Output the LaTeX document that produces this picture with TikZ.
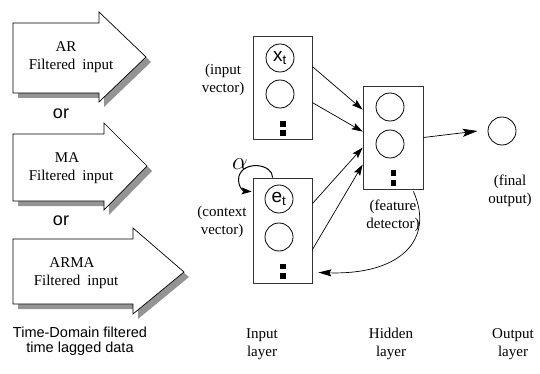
\documentclass[tikz,border=0pt]{standalone}
\usepackage{fontspec}
\setmainfont{Liberation Serif}
\setsansfont{Liberation Sans}
\usetikzlibrary{arrows.meta,calc}
\begin{document}
\begin{tikzpicture}[x=1pt,y=-1pt,
  bigarrow/.style={draw=black,line width=0.7pt,fill=white,line join=miter},
  shadow/.style={fill=black!42,draw=none},
  txt/.style={font=\fontsize{15}{18}\selectfont,inner sep=0pt,align=center},
  sans/.style={font=\sffamily\fontsize{16}{18}\selectfont,inner sep=0pt,align=center},
  layerbox/.style={draw=black!80,line width=0.8pt,minimum width=59pt,inner sep=0pt},
  neuron/.style={circle,draw=black,line width=0.8pt,minimum size=28pt,inner sep=0pt,font=\sffamily\fontsize{19}{19}\selectfont},
  dotsq/.style={fill=black,minimum width=5.5pt,minimum height=5.5pt,inner sep=0pt},
  conn/.style={line width=0.7pt,-{Stealth[length=11pt,width=7pt,inset=2pt]}}
]
\useasboundingbox (0,0) rectangle (540,374);
% ---- big input arrows ----
\fill[shadow,shift={(5,5)}] (13,23) -- (99,23) -- (99,12) -- (146,57) -- (99,102) -- (99,93) -- (13,93) -- cycle;
\fill[shadow,shift={(5,5)}] (13,134) -- (104,134) -- (104,123) -- (147,166) -- (104,210) -- (104,201) -- (13,201) -- cycle;
\fill[shadow,shift={(5,5)}] (13,239) -- (133,239) -- (133,228) -- (184,272) -- (133,314) -- (133,304) -- (13,304) -- cycle;
\draw[bigarrow] (13,23) -- (99,23) -- (99,12) -- (146,57) -- (99,102) -- (99,93) -- (13,93) -- cycle;
\draw[bigarrow] (13,134) -- (104,134) -- (104,123) -- (147,166) -- (104,210) -- (104,201) -- (13,201) -- cycle;
\draw[bigarrow] (13,239) -- (133,239) -- (133,228) -- (184,272) -- (133,314) -- (133,304) -- (13,304) -- cycle;

\node[txt] (ar) at (66,47) {AR};
\node[txt] (arf) at (71,66) {Filtered\hspace{7pt}input};
\node[txt] (ma) at (67,158) {MA};
\node[txt] (maf) at (71,177) {Filtered\hspace{7pt}input};
\node[txt] (arma) at (72,263) {ARMA};
\node[txt] (armaf) at (76,282) {Filtered\hspace{7pt}input};
\node[sans,font=\sffamily\fontsize{18}{18}\selectfont] (or1) at (61,114) {or};
\node[sans,font=\sffamily\fontsize{18}{18}\selectfont] (or2) at (61,221) {or};
\node[sans,font=\sffamily\fontsize{14.5}{14.5}\selectfont] (td) at (80,341) {Time-Domain filtered\\time lagged data};

% ---- input layer ----
\node[layerbox,minimum height=103pt] (inbox) at (282.5,87.5) {};
\node[neuron] (xt) at (280,58) {x\textsubscript{t}};
\node[neuron] (x2) at (280,94) {};
\node[dotsq] (xd1) at (283,124) {};
\node[dotsq] (xd2) at (283,133) {};
\node[txt] (inlab) at (223,80) {(input\\vector)};

\node[layerbox,minimum height=105pt] (cbox) at (282.5,230.5) {};
\node[neuron] (et) at (279,199) {e\textsubscript{t}};
\node[neuron] (e2) at (279,237) {};
\node[dotsq] (ed1) at (283,266.5) {};
\node[dotsq] (ed2) at (283,276) {};
\node[txt] (clab) at (222,222) {(context\\vector)};
\node[inner sep=0pt,font=\fontsize{27}{27}\selectfont] (alpha) at (240,164) {$\alpha$};

% ---- hidden layer ----
\node[layerbox,minimum height=103pt,minimum width=60pt] (hbox) at (393,137.5) {};
\node[neuron] (h1) at (390,107) {};
\node[neuron] (h2) at (390,144) {};
\node[dotsq] (hd1) at (393.5,173) {};
\node[dotsq] (hd2) at (393.5,183) {};
\node[txt] (hlab) at (393,215.5) {(feature\\detector)};

% ---- output ----
\node[neuron] (out) at (502,131) {};
\node[txt] (olab) at (510,190.5) {(final\\output)};

% ---- layer captions ----
\node[txt] (l1) at (262,344) {Input\\layer};
\node[txt] (l2) at (391,344) {Hidden\\layer};
\node[txt] (l3) at (513,344) {Output\\layer};

% ---- connectors ----
\coordinate (a1s) at ($(inbox.north east)+(0,31)$);
\coordinate (a2s) at ($(inbox.north east)+(0,67)$);
\coordinate (a3s) at ($(cbox.north east)+(0,26)$);
\coordinate (a4s) at ($(cbox.north east)+(0,72)$);
\coordinate (a1e) at ($(hbox.north west)+(0,24)$);
\coordinate (a2e) at ($(hbox.north west)+(0,46)$);
\coordinate (a3e) at ($(hbox.north west)+(0,62)$);
\coordinate (a4e) at ($(hbox.north west)+(0,79)$);
\draw[conn] (a1s) -- (a1e);
\draw[conn] (a2s) -- (a2e);
\draw[conn] (a3s) -- (a3e);
\draw[conn] (a4s) -- (a4e);
\draw[line width=0.7pt,-{Stealth[length=15pt,width=8pt,inset=3pt]}] (hbox.east) -- ($(out.west)+(-10,0)$);

% feedback
\coordinate (fbs) at ($(hbox.south east)+(-10,2)$);
\coordinate (fbe) at ($(cbox.east)+(6,42)$);
\draw[line width=0.7pt,-{Stealth[length=13pt,width=7pt,inset=2pt]}] (fbs) .. controls (435,240) and (400,275) .. (fbe);

% self loop
\coordinate (sls) at ($(cbox.north west)+(20,0)$);
\coordinate (sle) at ($(cbox.north west)+(-1,14)$);
\draw[line width=1pt,-{Stealth[length=10pt,width=7pt,inset=2pt]}] (sls) .. controls (273,164) and (244,160) .. (239,176) .. controls (237,186) and (243,191) .. (sle);
\end{tikzpicture}
\end{document}
